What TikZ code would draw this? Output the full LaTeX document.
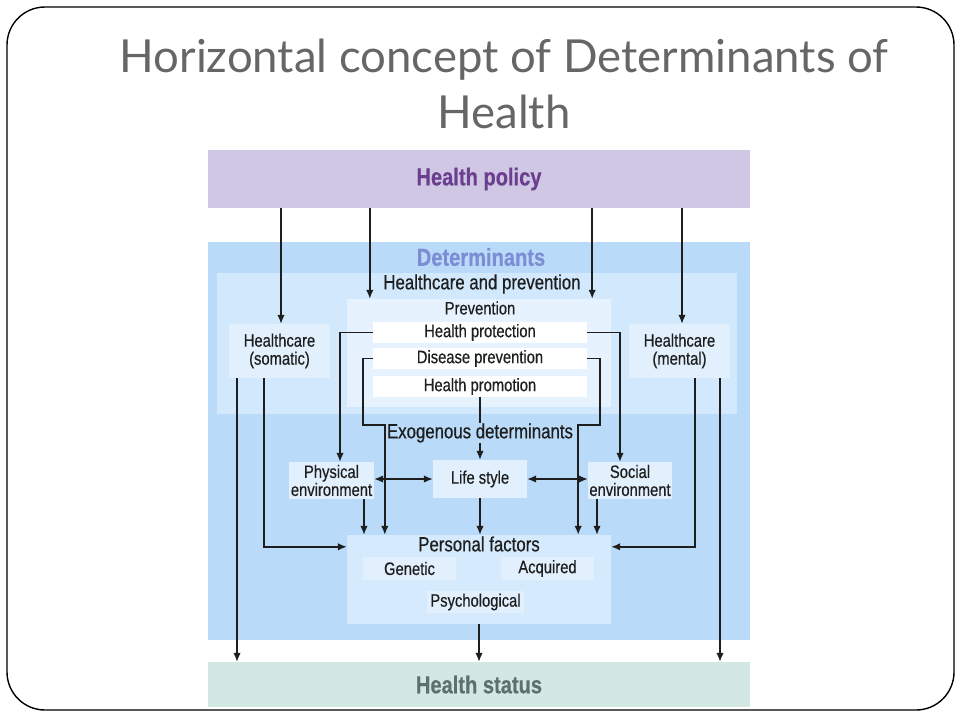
\documentclass[tikz,border=0pt]{standalone}
\usepackage{fontspec}
\setmainfont{Liberation Sans}
\newfontfamily\narrowfont[FakeStretch=0.82,FakeBold=0.5]{Liberation Sans}
\newfontfamily\titlefont{Lato}
\usetikzlibrary{arrows.meta,calc}

\definecolor{policybg}{HTML}{D0C7E5}
\definecolor{policytxt}{HTML}{6B3F8E}
\definecolor{detbg}{HTML}{B9DBF9}
\definecolor{dettxt}{HTML}{7B8ED4}
\definecolor{hcpbg}{HTML}{D2E8FC}
\definecolor{prevbg}{HTML}{E6F2FE}
\definecolor{boxbg}{HTML}{E2F0FD}
\definecolor{persbg}{HTML}{D5EAFD}
\definecolor{statusbg}{HTML}{D2E8E2}
\definecolor{statustxt}{HTML}{5E706C}
\definecolor{linecol}{HTML}{1E1E1E}
\definecolor{titlegray}{HTML}{666666}

\tikzset{
  arr/.style={-{Latex[length=9pt,width=7.5pt]}, line width=1.5pt, draw=linecol},
  twoarr/.style={{Latex[length=9pt,width=7.5pt]}-{Latex[length=9pt,width=7.5pt]}, line width=1.5pt, draw=linecol},
  link/.style={line width=1.5pt, draw=linecol},
  band/.style={fill=#1, minimum width=542pt, inner sep=0pt},
  panel/.style={fill=#1, inner sep=0pt},
  lbl/.style={font=\narrowfont\fontsize{18}{18}\selectfont, inner sep=0pt, align=center, text=linecol},
  head/.style={font=\narrowfont\fontsize{20.5}{20}\selectfont, inner sep=0pt, text=linecol},
  bigbold/.style={font=\narrowfont\bfseries\fontsize{24.5}{24}\selectfont, inner sep=0pt}
}

\begin{document}
\begin{tikzpicture}[x=1pt,y=-1pt]
\useasboundingbox (0,0) rectangle (960,720);
\draw[line width=1.4pt, rounded corners=38pt] (7,7) rectangle (954,710);

\node[anchor=base, font=\titlefont\fontsize{45.5}{56}\selectfont, text=titlegray] (title) at (504,72) {Horizontal concept of Determinants of};
\node[anchor=base, font=\titlefont\fontsize{45.5}{56}\selectfont, text=titlegray] (title2) at (504,128) {Health};

% bands
\node[band=policybg, minimum height=58pt, bigbold, text=policytxt] (policy) at (479,179) {Health policy};
\node[band=detbg, minimum height=398pt] (det) at (479,441) {};
\node[bigbold, text=dettxt] (dettext) at (481,257) {Determinants};
\node[band=statusbg, minimum height=45pt, bigbold, text=statustxt] (status) at (479,684.5) {Health status};

% healthcare and prevention
\node[panel=hcpbg, minimum width=520pt, minimum height=141pt] (hcp) at (477,343.5) {};
\node[head] (hcptext) at (482,284) {Healthcare and prevention};
\node[panel=prevbg, minimum width=264pt, minimum height=108pt] (prev) at (479,353) {};
\node[lbl] (prevtext) at (480,308) {Prevention};
\node[panel=white, minimum width=214pt, minimum height=21pt, lbl] (protection) at (480,332.5) {Health protection};
\node[panel=white, minimum width=214pt, minimum height=21pt, lbl] (disease) at (480,358.5) {Disease prevention};
\node[panel=white, minimum width=214pt, minimum height=21pt, lbl] (promotion) at (480,386.5) {Health promotion};
\node[panel=boxbg, minimum width=101pt, minimum height=54pt, lbl] (somatic) at (279.5,351) {Healthcare\\(somatic)};
\node[panel=boxbg, minimum width=101pt, minimum height=54pt, lbl] (mental) at (679.5,351) {Healthcare\\(mental)};

% exogenous
\node[head] (exo) at (480,433) {Exogenous determinants};
\node[panel=boxbg, minimum width=85pt, minimum height=37pt, lbl] (physical) at (331.5,480.5) {Physical\\environment};
\node[panel=boxbg, minimum width=94pt, minimum height=38pt, lbl] (lifestyle) at (480,479) {Life style};
\node[panel=boxbg, minimum width=84pt, minimum height=37pt, lbl] (social) at (630,480.5) {Social\\environment};

% personal factors
\node[panel=persbg, minimum width=264pt, minimum height=89pt] (personal) at (479,579.5) {};
\node[head] (perstext) at (479,544) {Personal factors};
\node[panel=boxbg, minimum width=93pt, minimum height=23pt, lbl] (genetic) at (409.5,568.5) {Genetic};
\node[panel=boxbg, minimum width=93pt, minimum height=23pt, lbl] (acquired) at (547.5,568.5) {Acquired};
\node[panel=boxbg, minimum width=97pt, minimum height=22pt, lbl] (psych) at (475.5,602) {Psychological};

\coordinate (sn) at ($(somatic.north)+(1.5,0)$);
\coordinate (mn) at ($(mental.north)+(2.5,0)$);
\coordinate (pl) at ($(prev.north west)+(23,0)$);
\coordinate (pr) at ($(prev.north east)+(-19,0)$);
\coordinate (dl) at (363,425);
\coordinate (dr) at (600,425);
\coordinate (pe) at ($(physical.south)+(32.5,0)$);
\coordinate (se) at ($(social.south)+(-33,0)$);
\coordinate (s1) at ($(somatic.south)+(-42.5,0)$);
\coordinate (s2) at ($(somatic.south)+(-15.5,0)$);
\coordinate (m1) at ($(mental.south)+(15.5,0)$);
\coordinate (m2) at ($(mental.south)+(40.5,0)$);
\coordinate (pw) at ($(personal.north west)+(0,12)$);
\coordinate (pw2) at ($(personal.north east)+(0,12)$);

% policy
\draw[arr] (policy.south -| sn) -- (sn);
\draw[arr] (policy.south -| pl) -- (pl);
\draw[arr] (policy.south -| pr) -- (pr);
\draw[arr] (policy.south -| mn) -- (mn);

% prevention
\draw[arr] (protection.west) -| ($(physical.north)+(8.5,0)$);
\draw[arr] (protection.east) -| ($(social.north)+(-10,0)$);
\draw[arr] (disease.west) -| (dl) -| ($(personal.north west)+(38,0)$);
\draw[arr] (disease.east) -| (dr) -| ($(personal.north east)+(-33,0)$);
\draw[link] (promotion.south) -- (exo.north);
\draw[arr] (exo.south) -- (lifestyle.north);

% exogenous
\draw[twoarr] (lifestyle.west -| physical.east) -- (lifestyle.west);
\draw[twoarr] (lifestyle.east) -- (lifestyle.east -| social.west);
\draw[arr] (pe) -- (pe |- personal.north);
\draw[arr] (se) -- (se |- personal.north);
\draw[arr] (lifestyle.south) -- (lifestyle.south |- personal.north);

% healthcare
\draw[arr] (s1) -- (s1 |- status.north);
\draw[arr] (s2) |- (pw);
\draw[arr] (m1) |- (pw2);
\draw[arr] (m2) -- (m2 |- status.north);
\draw[arr] (personal.south) -- (status.north);
\end{tikzpicture}
\end{document}
